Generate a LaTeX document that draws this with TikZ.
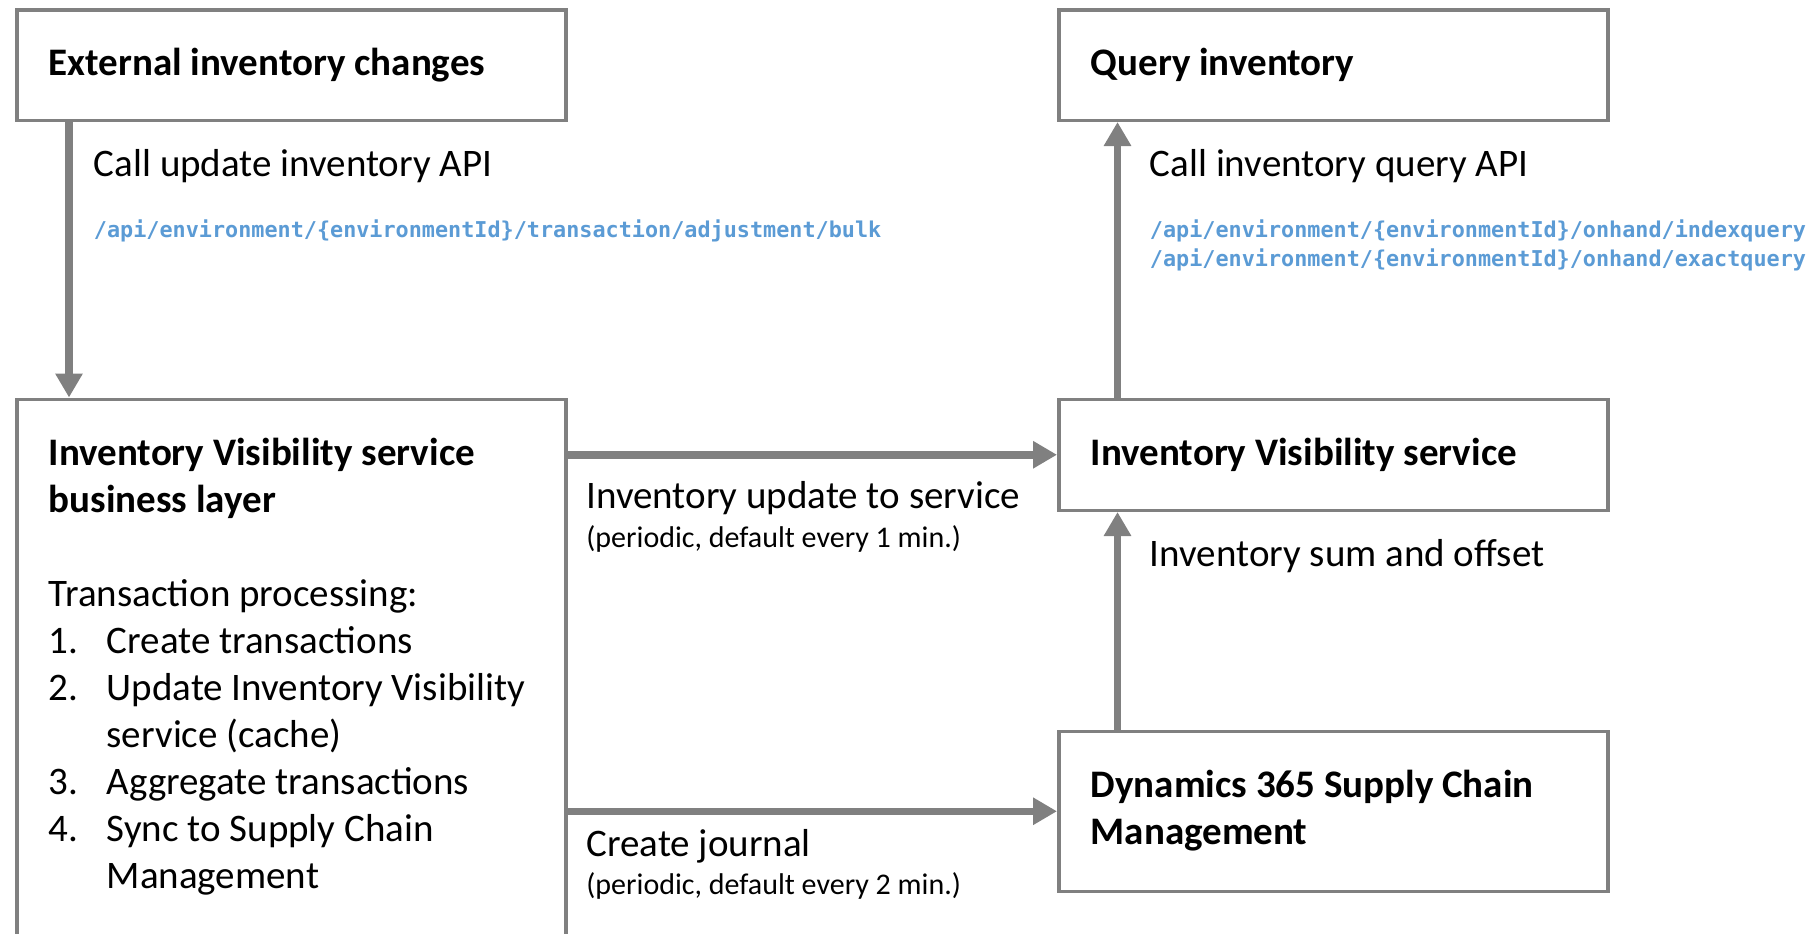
\documentclass[tikz,border=0pt]{standalone}
\usepackage{fontspec}
\setmainfont{Carlito}
\newfontfamily\apifont{DejaVu Sans Mono}
\usetikzlibrary{arrows.meta}
\definecolor{linegray}{RGB}{128,128,128}
\definecolor{apiblue}{RGB}{91,155,213}
\begin{document}
\begin{tikzpicture}[>={Triangle[width=13pt,length=12pt]},x=0.5pt,y=-0.5pt,
	box/.style={draw=linegray,line width=1.75pt,anchor=north west,align=flush left,inner xsep=16pt,inner ysep=0pt,text width=242.5pt,text height=33pt,font=\fontsize{19.5}{23.5}\selectfont},
	flow/.style={->,draw=linegray,line width=3.75pt},
	lbl/.style={anchor=base west,inner sep=0pt,font=\fontsize{19.5}{23.5}\selectfont},
	note/.style={anchor=base west,inner sep=0pt,font=\fontsize{15}{18}\selectfont},
	api/.style={anchor=base west,inner sep=0pt,text=apiblue,font=\apifont\bfseries\fontsize{10.9}{14}\selectfont}]
		\useasboundingbox (0,0) rectangle (1814,933);
		\clip (0,0) rectangle (1814,933);
		\node[box,text depth=22.25pt] (ext) at (15,8) {\textbf{External inventory changes}};
		\node[box,text depth=22.25pt] (qry) at (1057,8) {\textbf{Query inventory}};
		\node[box,text depth=280pt] (layer) at (15,397.5) {\textbf{Inventory Visibility service}\\
			\textbf{business layer}\\[23.5pt]
			Transaction processing:\\
			\makebox[29pt][l]{1.}Create transactions\\
			\makebox[29pt][l]{2.}Update Inventory Visibility\\
			\hspace*{29pt}service (cache)\\
			\makebox[29pt][l]{3.}Aggregate transactions\\
			\makebox[29pt][l]{4.}Sync to Supply Chain\\
			\hspace*{29pt}Management};
		\node[box,text depth=22.5pt] (svc) at (1057,397.5) {\textbf{Inventory Visibility service}};
		\node[box,text depth=47pt] (scm) at (1057,729.5) {\textbf{Dynamics 365 Supply Chain}\\\textbf{Management}};
		% arrows between the boxes
		\draw[flow] ([xshift=27pt]ext.south west) -- ([xshift=27pt]layer.north west);
		\draw[flow] ([xshift=30.25pt]svc.north west) -- ([xshift=30.25pt]qry.south west);
		\draw[flow] ([xshift=30.25pt]scm.north west) -- ([xshift=30.25pt]svc.south west);
		\draw[flow] (layer.east |- svc.west) -- (svc.west);
		\draw[flow] (layer.east |- scm.west) -- (scm.west);
		\node[lbl] (updcall) at (93.5,176.5) {Call update inventory API};
		\node[api] (updapi) at (93.5,237.5) {/api/environment/\{environmentId\}/transaction/adjustment/bulk};
		\node[lbl] (qrycall) at (1149.5,176.5) {Call inventory query API};
		\node[api] (qryapi) at (1149.5,237.5) {/api/environment/\{environmentId\}/onhand/indexquery};
		\node[api] (qryapix) at (1149.5,266.5) {/api/environment/\{environmentId\}/onhand/exactquery};
		\node[lbl] (updsvc) at (586,508) {Inventory update to service};
		\node[note] (updnote) at (586,547.5) {(periodic, default every 1 min.)};
		\node[lbl] (sumoff) at (1149.5,566) {Inventory sum and offset};
		\node[lbl] (journal) at (586,856) {Create journal};
		\node[note] (journote) at (586,894.5) {(periodic, default every 2 min.)};
\end{tikzpicture}
\end{document}
